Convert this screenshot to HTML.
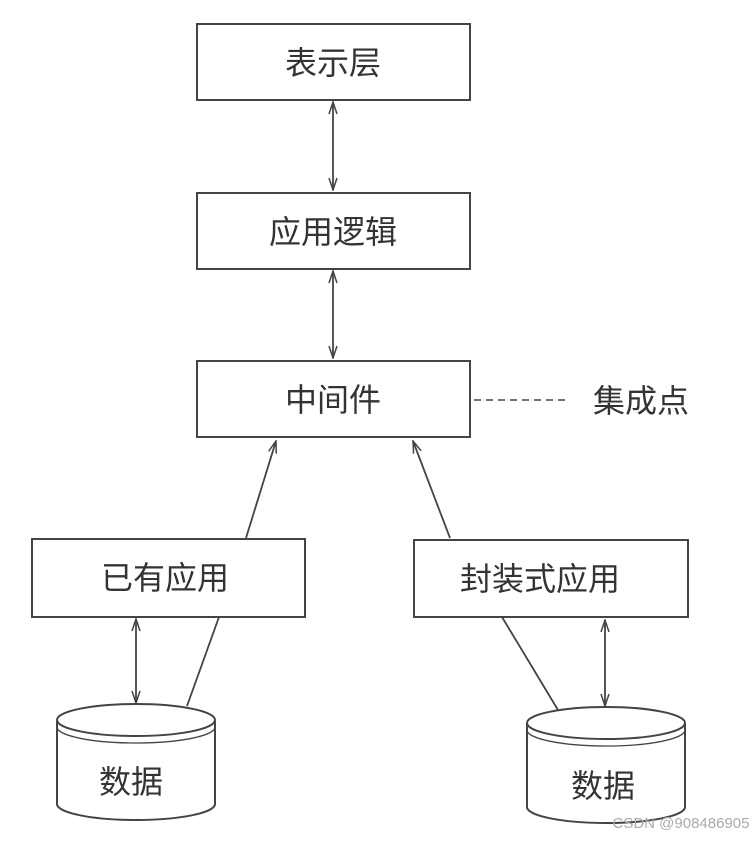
<!DOCTYPE html>
<html><head><meta charset="utf-8"><style>
html,body{margin:0;padding:0;background:#fff;}
svg text{font-family:"Liberation Sans","Noto Sans CJK SC",sans-serif;fill:#333;font-size:32px;text-anchor:middle;}
</style></head><body>
<svg width="754" height="837" viewBox="0 0 754 837" xmlns="http://www.w3.org/2000/svg">
<defs>
<marker id="a" markerWidth="14" markerHeight="10" refX="13" refY="5" orient="auto-start-reverse" markerUnits="userSpaceOnUse">
<path d="M1,1 L13,5 L1,9" fill="none" stroke="#444" stroke-width="1.5"/>
</marker>
</defs>
<g fill="#fff" stroke="#444" stroke-width="2">
<rect x="197" y="24" width="273" height="76"/>
<rect x="197" y="193" width="273" height="76"/>
<rect x="197" y="361" width="273" height="76"/>
<rect x="32" y="539" width="273" height="78"/>
<rect x="414" y="540" width="274" height="77"/>
</g>
<g stroke="#444" stroke-width="1.8" fill="none">
<line x1="333" y1="102" x2="333" y2="190" marker-start="url(#a)" marker-end="url(#a)"/>
<line x1="333" y1="271" x2="333" y2="358" marker-start="url(#a)" marker-end="url(#a)"/>
<line x1="246" y1="538" x2="276" y2="441" marker-end="url(#a)"/>
<line x1="450" y1="538" x2="413" y2="441" marker-end="url(#a)"/>
<line x1="136" y1="619" x2="136" y2="703" marker-start="url(#a)" marker-end="url(#a)"/>
<line x1="605" y1="620" x2="605" y2="706" marker-start="url(#a)" marker-end="url(#a)"/>
<line x1="219" y1="617" x2="187" y2="706"/>
<line x1="502" y1="617" x2="558" y2="710"/>
<line x1="474" y1="400" x2="567" y2="400" stroke-dasharray="7,5" stroke-width="1.5"/>
</g>
<g stroke="#444" stroke-width="2" fill="#fff">
<path d="M57,720 L57,804 A79,16 0 0 0 215,804 L215,720"/>
<ellipse cx="136" cy="720" rx="79" ry="16"/>
<path d="M57,727 A79,16 0 0 0 215,727" fill="none" stroke-width="1.3"/>
<path d="M527,723 L527,807 A79,16 0 0 0 685,807 L685,723"/>
<ellipse cx="606" cy="723" rx="79" ry="16"/>
<path d="M527,730 A79,16 0 0 0 685,730" fill="none" stroke-width="1.3"/>
</g>
<text x="333" y="74">表示层</text>
<text x="333" y="243">应用逻辑</text>
<text x="333" y="411">中间件</text>
<text x="641" y="412">集成点</text>
<text x="165" y="589">已有应用</text>
<text x="540" y="590">封装式应用</text>
<text x="131" y="793">数据</text>
<text x="603" y="797">数据</text>
<text x="681" y="828" style="font-size:15px;fill:#aaa">CSDN @908486905</text>
</svg>
</body></html>
